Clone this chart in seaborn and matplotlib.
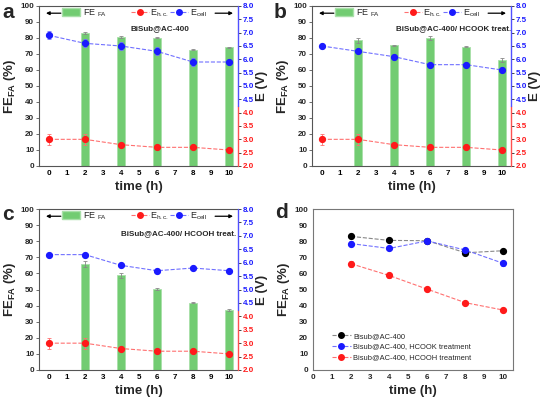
import numpy as np
import pandas as pd
import matplotlib
matplotlib.use("Agg")
import matplotlib.pyplot as plt
import seaborn as sns
from matplotlib.patches import Patch
from matplotlib.lines import Line2D

sns.set_theme(style="white")
plt.rcParams['font.family'] = ['Liberation Sans', 'DejaVu Sans']
plt.rcParams['mathtext.default'] = 'regular'

# ---------------- data ----------------
time_all = [0, 2, 4, 6, 8, 10]
time_fe = [2, 4, 6, 8, 10]

fe_a = [83.0, 80.5, 80.3, 72.8, 74.1]
fe_a_err = [0.5, 0.5, 0.5, 0.5, 0.5]
ehc_a = [3.0, 3.0, 2.8, 2.7, 2.7, 2.6]
ehc_a_err = [0.2, 0.2, 0.07, 0.05, 0.05, 0.05]
ecell_a = [6.9, 6.6, 6.5, 6.3, 5.9, 5.9]
ecell_a_err = [0.15, 0.15, 0.15, 0.15, 0.15, 0.05]

fe_b = [78.5, 75.5, 80.2, 74.5, 66.2]
fe_b_err = [1.5, 0.3, 1.3, 0.3, 1.5]
ehc_b = [3.0, 3.0, 2.8, 2.7, 2.7, 2.6]
ehc_b_err = [0.2, 0.2, 0.07, 0.05, 0.05, 0.05]
ecell_b = [6.5, 6.3, 6.1, 5.8, 5.8, 5.6]
ecell_b_err = [0.05, 0.07, 0.07, 0.05, 0.05, 0.07]

fe_c = [66.0, 58.7, 50.2, 41.8, 37.2]
fe_c_err = [2.0, 1.5, 0.8, 0.3, 0.8]
ehc_c = [3.0, 3.0, 2.8, 2.7, 2.7, 2.6]
ehc_c_err = [0.2, 0.2, 0.07, 0.05, 0.05, 0.05]
ecell_c = [6.3, 6.3, 5.9, 5.7, 5.8, 5.7]
ecell_c_err = [0.05, 0.05, 0.05, 0.05, 0.05, 0.05]

titles = ["BiSub@AC-400", "BiSub@AC-400/ HCOOK treat.", "BiSub@AC-400/ HCOOH treat."]
legend_d = ["Bisub@AC-400", "Bisub@AC-400, HCOOK treatment", "Bisub@AC-400, HCOOH treatment"]

GREEN = '#72cc72'
RED = '#ff1a1a'
BLUE = '#1a1aff'
RED_L = '#ff7070'
BLUE_L = '#7070ff'
SPINE = '#555555'

TICK_FS = 5.8
LAB_FS = 9.5
LEG_FS = 6.5
TITLE_FS = 5.8

W, H = 543, 400
fig = plt.figure(figsize=(W / 100, H / 100), dpi=100)


def px_axes(l, r, t, b):
    return fig.add_axes([l / W, 1 - b / H, (r - l) / W, (b - t) / H])


def style_ticks(ax):
    for lab in ax.get_xticklabels() + ax.get_yticklabels():
        lab.set_fontweight('bold')


def panel(rect, fe, fe_err, ehc, ehc_err, ecell, ecell_err, title, title_xy):
    ax = px_axes(*rect)
    df_fe = pd.DataFrame({'t': time_fe, 'fe': fe})
    ax.bar(df_fe['t'], df_fe['fe'], width=0.42, color=GREEN, edgecolor='#a8e0a8',
           linewidth=0.6, zorder=1)
    ax.errorbar(time_fe, fe, yerr=fe_err, fmt='none', ecolor='#888888',
                elinewidth=0.6, capsize=1.5, capthick=0.6, zorder=2)
    ax.set_xlim(-0.55, 10.5)
    ax.set_ylim(0, 100)
    ax.set_xticks(range(0, 11))
    ax.set_yticks(range(0, 101, 10))
    ax.tick_params(axis='x', direction='in', length=2, width=0.6, labelsize=TICK_FS,
                   colors='black', pad=3, color=SPINE)
    ax.tick_params(axis='y', direction='out', length=2, width=0.6, labelsize=TICK_FS,
                   pad=1.5, color=SPINE)
    ax.set_xlabel('time (h)', fontsize=LAB_FS, fontweight='bold', labelpad=3)
    ax.set_ylabel('FE$_{FA}$ (%)', fontsize=LAB_FS, fontweight='bold', labelpad=2)
    for s in ['left', 'bottom', 'top']:
        ax.spines[s].set_color(SPINE)
        ax.spines[s].set_linewidth(0.8)
    ax.spines['right'].set_visible(False)
    style_ticks(ax)

    ax2 = ax.twinx()
    df_e = pd.DataFrame({'t': time_all, 'ehc': ehc, 'ecell': ecell})
    sns.lineplot(data=df_e, x='t', y='ehc', ax=ax2, color=RED_L, linestyle='--',
                 linewidth=0.8, zorder=3)
    sns.lineplot(data=df_e, x='t', y='ecell', ax=ax2, color=BLUE_L, linestyle='--',
                 linewidth=0.8, zorder=3)
    ax2.errorbar(time_all, ehc, yerr=ehc_err, fmt='o', color=RED, ms=4.2,
                 ecolor=RED_L, elinewidth=0.6, capsize=1.5, capthick=0.6, zorder=4)
    ax2.errorbar(time_all, ecell, yerr=ecell_err, fmt='o', color=BLUE, ms=4.2,
                 ecolor=BLUE_L, elinewidth=0.6, capsize=1.5, capthick=0.6, zorder=4)
    ax2.set_ylim(2.0, 8.0)
    ax2.set_yticks(np.arange(2.0, 8.01, 0.5))
    ax2.set_yticklabels([f'{v:.1f}' for v in np.arange(2.0, 8.01, 0.5)])
    ax2.set_xlabel('')
    ax2.set_ylabel('E (V)', fontsize=LAB_FS, fontweight='bold', labelpad=1.5)
    ax2.tick_params(axis='y', direction='out', length=2, width=0.6, labelsize=TICK_FS,
                    pad=1.5)
    for v, lab, tk in zip(np.arange(2.0, 8.01, 0.5), ax2.get_yticklabels(),
                          ax2.yaxis.get_major_ticks()):
        c = RED if v < 4.3 else BLUE
        lab.set_color(c)
        lab.set_fontweight('bold')
        tk.tick2line.set_color(c)
    for s in ['left', 'bottom', 'top', 'right']:
        ax2.spines[s].set_visible(False)
    split = (4.25 - 2.0) / 6.0
    ax2.plot([1, 1], [0, split], transform=ax2.transAxes, color='#ff5050', lw=1.0,
             clip_on=False, zorder=5)
    ax2.plot([1, 1], [split, 1], transform=ax2.transAxes, color='#5050ff', lw=1.0,
             clip_on=False, zorder=5)
    ax2.set_xlim(-0.55, 10.5)

    # legend
    ly = 0.955
    leg1 = ax2.legend([Patch(facecolor=GREEN, edgecolor='#a8e0a8')], ['FE $_{FA}$'],
                      loc='center left', bbox_to_anchor=(0.115, ly), frameon=False,
                      fontsize=LEG_FS, handlelength=2.0, handleheight=0.95,
                      handletextpad=0.35, borderpad=0, borderaxespad=0)
    ax2.add_artist(leg1)
    leg2 = ax2.legend([Line2D([], [], color=RED_L, ls='--', lw=0.8, marker='o',
                              mfc=RED, mec=RED, ms=4)], ['E$_{h.c.}$'],
                      loc='center left', bbox_to_anchor=(0.46, ly), frameon=False,
                      fontsize=LEG_FS, handlelength=2.0, handletextpad=0.2, borderpad=0,
                      borderaxespad=0)
    ax2.add_artist(leg2)
    ax2.legend([Line2D([], [], color=BLUE_L, ls='--', lw=0.8, marker='o',
                       mfc=BLUE, mec=BLUE, ms=4)], ['E$_{cell}$'],
               loc='center left', bbox_to_anchor=(0.66, ly), frameon=False,
               fontsize=LEG_FS, handlelength=2.0, handletextpad=0.2, borderpad=0,
               borderaxespad=0)
    ax2.annotate('', xy=(0.035, ly), xytext=(0.11, ly), xycoords='axes fraction',
                 arrowprops=dict(arrowstyle='-|>', color='black', lw=0.9,
                                 mutation_scale=5, shrinkA=0, shrinkB=0))
    ax2.annotate('', xy=(0.975, ly), xytext=(0.885, ly), xycoords='axes fraction',
                 arrowprops=dict(arrowstyle='-|>', color='black', lw=0.9,
                                 mutation_scale=5, shrinkA=0, shrinkB=0))
    ax2.text(title_xy[0], title_xy[1], title, transform=ax2.transAxes, fontsize=TITLE_FS,
             fontweight='bold', ha='center', va='center')
    return ax


panel((39, 238, 6, 166), fe_a, fe_a_err, ehc_a, ehc_a_err, ecell_a, ecell_a_err,
      titles[0], (0.61, 0.86))
panel((312, 511, 6, 166), fe_b, fe_b_err, ehc_b, ehc_b_err, ecell_b, ecell_b_err,
      titles[1], (0.71, 0.86))
panel((39, 238, 209, 370), fe_c, fe_c_err, ehc_c, ehc_c_err, ecell_c, ecell_c_err,
      titles[2], (0.70, 0.85))

# ---------------- panel d ----------------
axd = px_axes(313, 513, 209, 370)
df_d = pd.DataFrame({'t': time_fe * 3,
                     'fe': fe_a + fe_b + fe_c,
                     'err': fe_a_err + fe_b_err + fe_c_err,
                     'series': [legend_d[0]] * 5 + [legend_d[1]] * 5 + [legend_d[2]] * 5})
line_cols = ['#888888', BLUE_L, RED_L]
mk_cols = ['black', BLUE, RED]
for name, lc, mc in zip(legend_d, line_cols, mk_cols):
    sub = df_d[df_d['series'] == name]
    sns.lineplot(data=sub, x='t', y='fe', ax=axd, color=lc, linestyle='--',
                 linewidth=0.8, zorder=2)
    axd.errorbar(sub['t'], sub['fe'], yerr=sub['err'], fmt='o', color=mc, ms=4.2,
                 ecolor=lc, elinewidth=0.6, capsize=1.5, capthick=0.6, zorder=3)
handles = [Line2D([], [], color=lc, ls='--', lw=0.8, marker='o', mfc=mc, mec=mc, ms=4)
           for lc, mc in zip(line_cols, mk_cols)]
axd.legend(handles, legend_d, loc='lower left', bbox_to_anchor=(0.095, 0.055),
           frameon=False, fontsize=5.4, handlelength=2.5, handletextpad=0.3,
           labelspacing=0.45, borderpad=0, borderaxespad=0)
axd.set_xlim(0, 10.5)
axd.set_ylim(0, 100)
axd.set_xticks(range(0, 11))
axd.set_yticks(range(0, 101, 10))
axd.tick_params(axis='x', direction='in', length=2, width=0.6, labelsize=TICK_FS, pad=3,
                color='#777777')
axd.tick_params(axis='y', direction='out', length=2, width=0.6, labelsize=TICK_FS, pad=1.5,
                color='#777777')
axd.set_xlabel('time (h)', fontsize=LAB_FS, fontweight='bold', labelpad=3)
axd.set_ylabel('FE$_{FA}$ (%)', fontsize=LAB_FS, fontweight='bold', labelpad=2)
for s in axd.spines.values():
    s.set_color('#777777')
    s.set_linewidth(0.8)
style_ticks(axd)

# panel letters
for letter, (x, y) in zip('abcd', [(2, 12), (274, 12), (2, 214), (275, 212)]):
    fig.text(x / W, 1 - y / H, letter, fontsize=15, fontweight='bold',
             ha='left', va='center')

fig.savefig('out.png', dpi=100)
